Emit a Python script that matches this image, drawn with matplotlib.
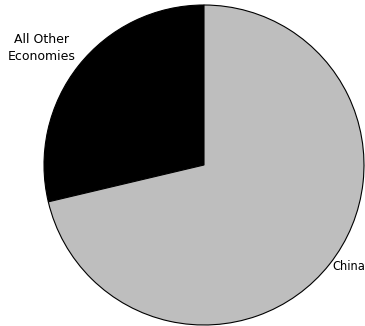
import matplotlib
matplotlib.use('Agg')
import matplotlib.pyplot as plt

labels = ['All Other\nEconomies', 'China']
shares = [28.7, 71.3]
colors = ['#000000', '#bebebe']

fig = plt.figure(figsize=(3.65, 3.26), dpi=100)
ax = fig.add_axes([0, 0, 1, 1])
ax.pie(shares, colors=colors, startangle=90, counterclock=True,
       center=(204, 161), radius=160, frame=True,
       wedgeprops={'edgecolor': 'black', 'linewidth': 0.8})
ax.set_xlim(0, 365)
ax.set_ylim(0, 326)
ax.set_aspect('equal')
ax.axis('off')

ax.text(42, 278, labels[0], ha='center', va='center', fontsize=9, linespacing=1.35)
ax.text(365, 59, labels[1], ha='right', va='center', fontsize=8.3)

plt.savefig('out.png', dpi=100)
